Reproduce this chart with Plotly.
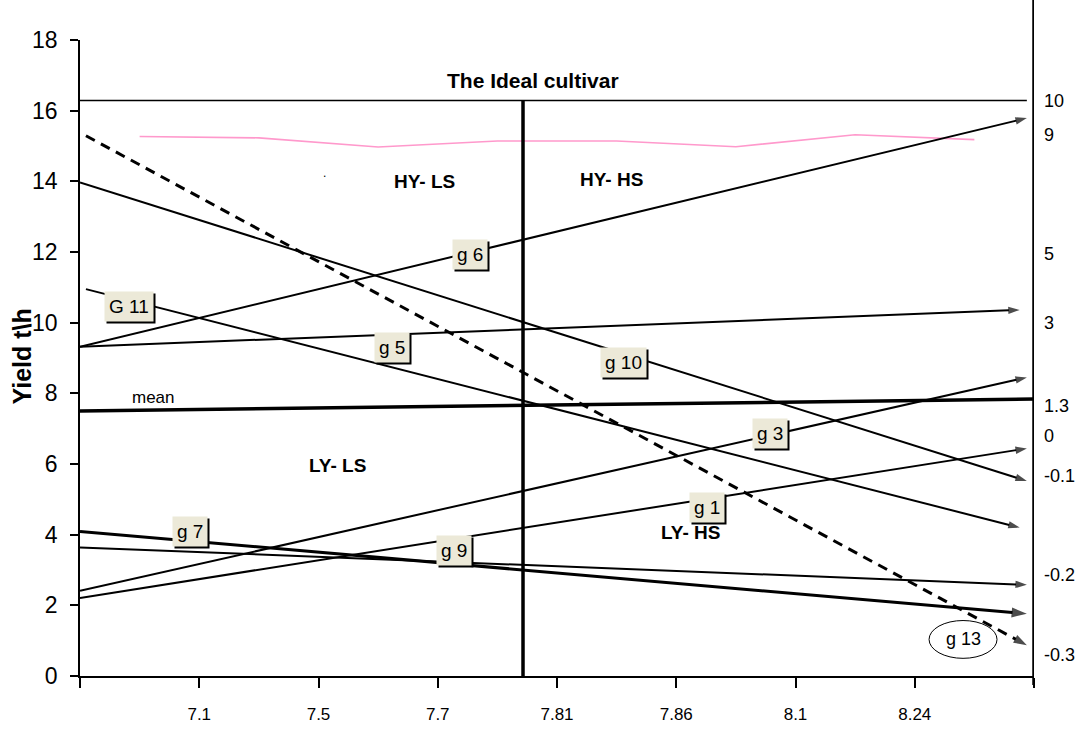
import plotly.graph_objects as go

# ---------------- data ----------------
x_tick_pos = [0, 1, 2, 3, 4, 5, 6, 7, 8]
x_tick_labels = ["", "7.1", "7.5", "7.7", "7.81", "7.86", "8.1", "8.24", ""]
y_tick_vals = [0, 2, 4, 6, 8, 10, 12, 14, 16, 18]

# pink series (plotted at category mid-points)
pink_x = [0.5, 1.5, 2.5, 3.5, 4.5, 5.5, 6.5, 7.5]
pink_y = [15.27, 15.23, 14.97, 15.14, 15.14, 14.98, 15.32, 15.18]

# genotype response lines
geno_names = ["g 6", "g 5", "G 11", "g 10", "g 13", "g 3", "g 1", "g 9", "g 7"]
geno_x0 = [0.0, 0.0, 0.05, 0.0, 0.05, 0.0, 0.0, 0.0, 0.0]
geno_y0 = [9.32, 9.32, 10.95, 13.97, 15.29, 2.41, 2.21, 3.64, 4.09]
geno_x1 = [7.94, 7.88, 7.88, 7.94, 7.94, 7.94, 7.94, 7.94, 7.94]
geno_y1 = [15.79, 10.36, 4.20, 5.52, 0.87, 8.45, 6.44, 2.58, 1.76]
geno_width = [2, 2, 2, 2, 3, 2, 2, 2, 3]
geno_dash = ["solid", "solid", "solid", "solid", "10px,7px", "solid", "solid", "solid", "solid"]
geno_head = [12, 12, 12, 12, 14, 12, 12, 12, 16]

# label box positions
label_x = [3.27, 2.62, 0.41, 4.56, None, 5.79, 5.26, 3.14, 0.92]
label_y = [11.94, 9.29, 10.47, 8.87, None, 6.86, 4.76, 3.56, 4.09]

# mean line
mean_x = [0, 8]
mean_y = [7.50, 7.84]

# ideal cultivar and partition lines
ideal_y = 16.29
ideal_x_end = 7.94
split_x = 3.715

# right-hand slope labels
right_labels = ["10", "9", "5", "3", "1.3", "0", "-0.1", "-0.2", "-0.3"]
right_label_y = [16.26, 15.31, 11.93, 10.0, 7.64, 6.78, 5.66, 2.86, 0.59]

# quadrant labels
quad_text = ["HY- LS", "HY- HS", "LY- LS", "LY- HS"]
quad_x = [2.89, 4.46, 2.16, 5.12]
quad_y = [14.0, 14.05, 5.96, 4.05]

FONT = "Liberation Sans, Arial, sans-serif"

fig = go.Figure()

# pink line
fig.add_trace(go.Scatter(x=pink_x, y=pink_y, mode="lines",
                         line=dict(color="#FF99CC", width=1.6),
                         hoverinfo="skip", showlegend=False))

# mean line
fig.add_trace(go.Scatter(x=mean_x, y=mean_y, mode="lines",
                         line=dict(color="black", width=3.5),
                         hoverinfo="skip", showlegend=False))

# genotype lines with arrow heads
for i, name in enumerate(geno_names):
    fig.add_trace(go.Scatter(
        x=[geno_x0[i], geno_x1[i]], y=[geno_y0[i], geno_y1[i]],
        mode="lines+markers",
        line=dict(color="black", width=geno_width[i], dash=geno_dash[i]),
        marker=dict(symbol=["circle", "arrow"], size=[0, geno_head[i]],
                    angleref="previous", color="black",
                    line=dict(width=0)),
        name=name, hoverinfo="skip", showlegend=False, cliponaxis=False))

shapes = []
# ideal cultivar line
shapes.append(dict(type="line", xref="x", yref="y", x0=0, x1=ideal_x_end,
                   y0=ideal_y, y1=ideal_y, line=dict(color="black", width=1.5)))
# vertical split line
shapes.append(dict(type="line", xref="x", yref="y", x0=split_x, x1=split_x,
                   y0=-0.06, y1=ideal_y, line=dict(color="black", width=3.5)))
# right thick axis line
shapes.append(dict(type="line", xref="x", yref="paper", x0=8, x1=8,
                   y0=-0.014, y1=1.07, line=dict(color="black", width=3.5)))
# ellipse around g 13
shapes.append(dict(type="circle", xref="x", yref="y", x0=7.12, x1=7.69,
                   y0=0.50, y1=1.57, line=dict(color="black", width=1)))

annotations = []
# label boxes with shadow
for i, name in enumerate(geno_names):
    if label_x[i] is None:
        continue
    annotations.append(dict(x=label_x[i], y=label_y[i], text=name, showarrow=False,
                            font=dict(family=FONT, size=19, color="black"),
                            bgcolor="black", borderpad=4, xshift=2, yshift=-2))
    annotations.append(dict(x=label_x[i], y=label_y[i], text=name, showarrow=False,
                            font=dict(family=FONT, size=19, color="black"),
                            bgcolor="#ECE9D8", borderpad=4))
# g 13 text
annotations.append(dict(x=7.405, y=1.04, text="g 13", showarrow=False,
                        font=dict(family=FONT, size=18, color="black")))
# mean
annotations.append(dict(x=0.62, y=7.87, text="mean", showarrow=False,
                        font=dict(family=FONT, size=17, color="black")))
# ideal cultivar
annotations.append(dict(x=3.80, y=16.84, text="<b>The Ideal cultivar</b>", showarrow=False,
                        font=dict(family=FONT, size=21, color="black")))
# quadrant labels
for t, qx, qy in zip(quad_text, quad_x, quad_y):
    annotations.append(dict(x=qx, y=qy, text="<b>" + t + "</b>", showarrow=False,
                            font=dict(family=FONT, size=19, color="black")))
# small dot
annotations.append(dict(x=2.05, y=14.25, text=".", showarrow=False,
                        font=dict(family=FONT, size=12, color="black")))
# right slope labels
for t, ry in zip(right_labels, right_label_y):
    annotations.append(dict(x=8, y=ry, text=t, showarrow=False, xanchor="left",
                            xshift=8, font=dict(family=FONT, size=18, color="black")))
# y title
annotations.append(dict(xref="paper", yref="paper", x=-0.061, y=0.502,
                        xanchor="center", yanchor="middle",
                        text="<b>Yield t\\h</b>", textangle=-90, showarrow=False,
                        font=dict(family=FONT, size=25, color="black")))

fig.update_layout(
    width=1082, height=736,
    margin=dict(l=80, r=48, t=40, b=53),
    paper_bgcolor="white", plot_bgcolor="white",
    shapes=shapes, annotations=annotations,
    showlegend=False,
    xaxis=dict(range=[0, 8], tickmode="array", tickvals=x_tick_pos,
               ticktext=x_tick_labels, ticks="outside", ticklen=10,
               tickwidth=1.5, tickcolor="black", showline=True,
               linecolor="black", linewidth=1.5, showgrid=False, zeroline=False,
               tickfont=dict(family=FONT, size=17, color="black"),
               ticklabelstandoff=12),
    yaxis=dict(range=[0, 18], tickmode="array", tickvals=y_tick_vals,
               ticks="outside", ticklen=8, tickwidth=1.5, tickcolor="black",
               showline=True, linecolor="black", linewidth=1.5,
               showgrid=False, zeroline=False,
               tickfont=dict(family=FONT, size=23, color="black"),
               ticklabelstandoff=8),
)

# remove the browser's default page margin so the figure sits at the window origin
fig.write_html("out.html",
               config={"displayModeBar": False},
               post_script="document.body.style.margin='0';"
                           "document.body.style.overflow='hidden';")
